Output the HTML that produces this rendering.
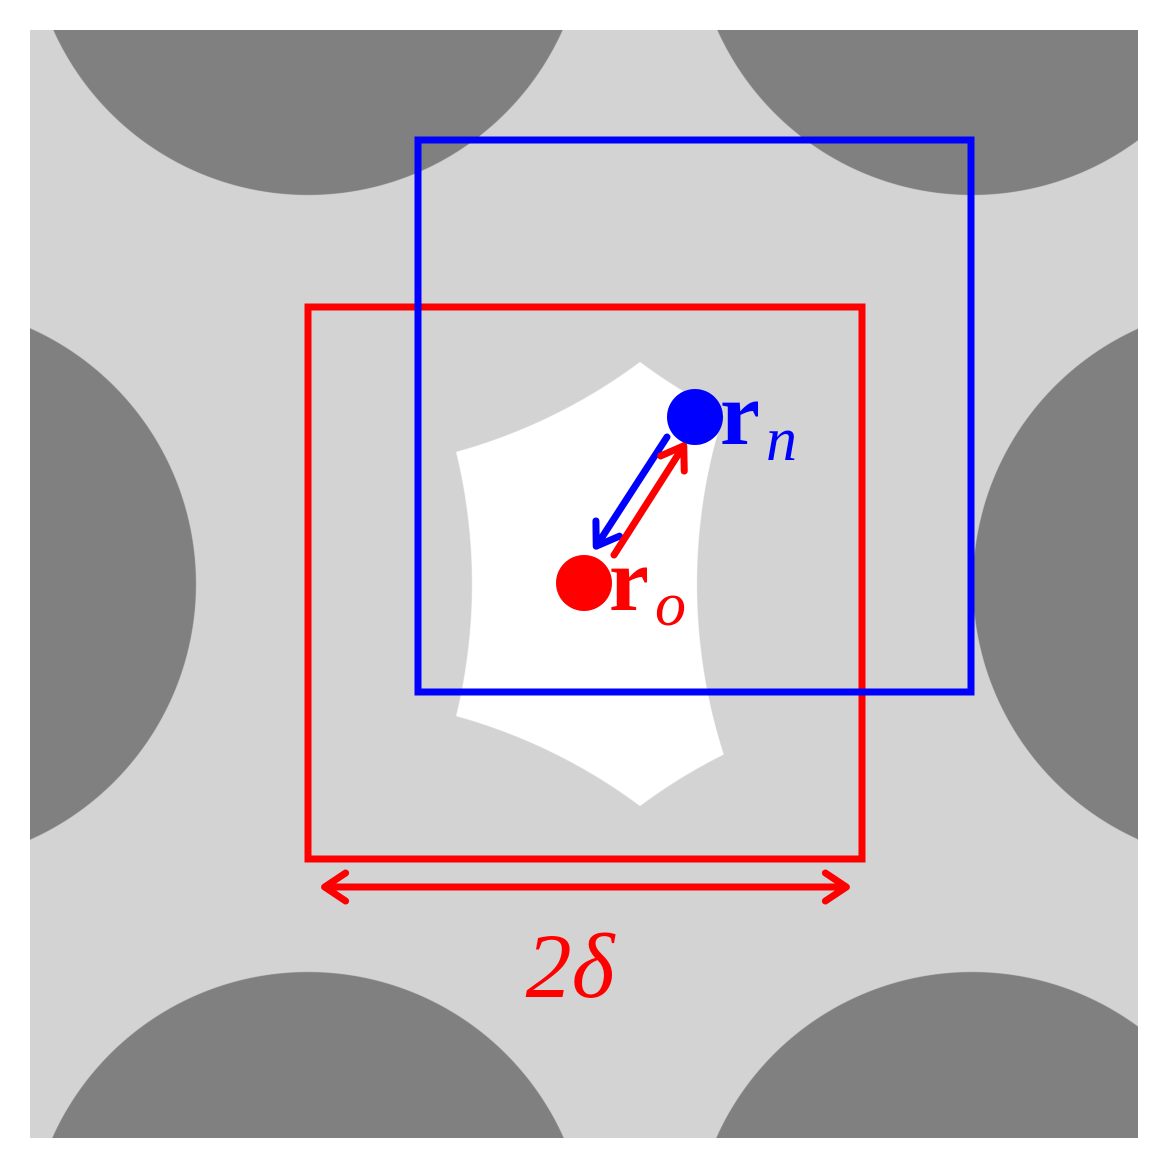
<!DOCTYPE html>
<html><head><meta charset="utf-8"><style>html,body{margin:0;padding:0;background:#fff;width:1168px;height:1168px;overflow:hidden;position:relative}
#domain{position:absolute;left:30px;top:30px;width:1108px;height:1108px;background:
radial-gradient(circle 279px at 278px -114px,#808080 278.5px,transparent 279.5px),
radial-gradient(circle 279px at 942px -114px,#808080 278.5px,transparent 279.5px),
radial-gradient(circle 280px at -114px 554px,#808080 279.5px,transparent 280.5px),
radial-gradient(circle 280px at 1223px 554px,#808080 279.5px,transparent 280.5px),
radial-gradient(circle 280px at 278px 1222px,#808080 279.5px,transparent 280.5px),
radial-gradient(circle 280px at 942px 1222px,#808080 279.5px,transparent 280.5px),
radial-gradient(circle 556px at 278px -114px,#d3d3d3 555.5px,transparent 556.5px),
radial-gradient(circle 556px at 942px -114px,#d3d3d3 555.5px,transparent 556.5px),
radial-gradient(circle 556px at -114px 554px,#d3d3d3 555.5px,transparent 556.5px),
radial-gradient(circle 556px at 1223px 554px,#d3d3d3 555.5px,transparent 556.5px),
radial-gradient(circle 556px at 278px 1222px,#d3d3d3 555.5px,transparent 556.5px),
radial-gradient(circle 556px at 942px 1222px,#d3d3d3 555.5px,transparent 556.5px),
#ffffff}
svg{position:absolute;left:0;top:0;display:block}</style></head>
<body>
<div id="domain"></div>
<svg width="1168" height="1168" viewBox="0 0 1168 1168" xmlns="http://www.w3.org/2000/svg">
<defs>
<marker id="ab" markerWidth="6" markerHeight="6" refX="3.8" refY="3" orient="auto" markerUnits="strokeWidth"><path d="M1,1 L4,3 L1,5" fill="none" stroke="#0000ff" stroke-width="1" stroke-linecap="round" stroke-linejoin="round"/></marker>
<marker id="ar" markerWidth="6" markerHeight="6" refX="3.8" refY="3" orient="auto" markerUnits="strokeWidth"><path d="M1,1 L4,3 L1,5" fill="none" stroke="#ff0000" stroke-width="1" stroke-linecap="round" stroke-linejoin="round"/></marker>
<marker id="ars" markerWidth="6" markerHeight="6" refX="2.2" refY="3" orient="auto" markerUnits="strokeWidth"><path d="M5,1 L2,3 L5,5" fill="none" stroke="#ff0000" stroke-width="1" stroke-linecap="round" stroke-linejoin="round"/></marker>
</defs>
<rect x="308" y="307" width="554" height="552" fill="none" stroke="#ff0000" stroke-width="7"/>
<rect x="418" y="140" width="553" height="552" fill="none" stroke="#0000ff" stroke-width="7"/>
<line x1="667" y1="437" x2="597" y2="545" stroke="#0000ff" stroke-width="7" stroke-linecap="round" marker-end="url(#ab)"/>
<line x1="614" y1="555" x2="683" y2="447" stroke="#ff0000" stroke-width="7" stroke-linecap="round" marker-end="url(#ar)"/>
<circle cx="695" cy="417" r="28" fill="#0000ff"/>
<circle cx="584" cy="583" r="28" fill="#ff0000"/>
<text x="720" y="444" fill="#0000ff" font-family="Liberation Serif, serif" font-weight="bold" font-size="90">r</text>
<text x="766" y="460" fill="#0000ff" font-family="Liberation Serif, serif" font-style="italic" font-size="62">n</text>
<text x="609" y="610" fill="#ff0000" font-family="Liberation Serif, serif" font-weight="bold" font-size="90">r</text>
<text x="655" y="625" fill="#ff0000" font-family="Liberation Serif, serif" font-style="italic" font-size="62">o</text>
<line x1="326" y1="887" x2="845" y2="887" stroke="#ff0000" stroke-width="7" stroke-linecap="round" marker-start="url(#ars)" marker-end="url(#ar)"/>
<text x="570" y="997" fill="#ff0000" text-anchor="middle" font-family="Liberation Serif, serif" font-style="italic" font-size="92">2δ</text>
</svg>
</body></html>
